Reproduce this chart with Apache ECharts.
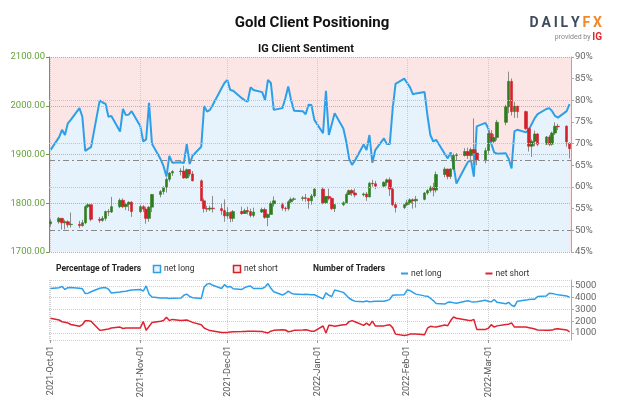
<!DOCTYPE html>
<html><head><meta charset="utf-8">
<script src="https://cdn.jsdelivr.net/npm/echarts/dist/echarts.min.js"></script>
<style>html,body{margin:0;padding:0;background:#fff}#c{width:624px;height:416px}</style>
</head><body><div id="c"></div>
<script>
// ---- categories (trading days) ----
const dates = [
'2021-10-01','2021-10-04','2021-10-05','2021-10-06','2021-10-07','2021-10-08','2021-10-11','2021-10-12','2021-10-13','2021-10-14','2021-10-15','2021-10-18','2021-10-19','2021-10-20','2021-10-21','2021-10-22','2021-10-25','2021-10-26','2021-10-27','2021-10-28','2021-10-29',
'2021-11-01','2021-11-02','2021-11-03','2021-11-04','2021-11-05','2021-11-08','2021-11-09','2021-11-10','2021-11-11','2021-11-12','2021-11-15','2021-11-16','2021-11-17','2021-11-18','2021-11-19','2021-11-22','2021-11-23','2021-11-24','2021-11-25','2021-11-26','2021-11-29','2021-11-30',
'2021-12-01','2021-12-02','2021-12-03','2021-12-06','2021-12-07','2021-12-08','2021-12-09','2021-12-10','2021-12-13','2021-12-14','2021-12-15','2021-12-16','2021-12-17','2021-12-20','2021-12-21','2021-12-22','2021-12-23','2021-12-24','2021-12-27','2021-12-28','2021-12-29','2021-12-30','2021-12-31',
'2022-01-03','2022-01-04','2022-01-05','2022-01-06','2022-01-07','2022-01-10','2022-01-11','2022-01-12','2022-01-13','2022-01-14','2022-01-17','2022-01-18','2022-01-19','2022-01-20','2022-01-21','2022-01-24','2022-01-25','2022-01-26','2022-01-27','2022-01-28','2022-01-31',
'2022-02-01','2022-02-02','2022-02-03','2022-02-04','2022-02-07','2022-02-08','2022-02-09','2022-02-10','2022-02-11','2022-02-14','2022-02-15','2022-02-16','2022-02-17','2022-02-18','2022-02-21','2022-02-22','2022-02-23','2022-02-24','2022-02-25','2022-02-28',
'2022-03-01','2022-03-02','2022-03-03','2022-03-04','2022-03-07','2022-03-08','2022-03-09','2022-03-10','2022-03-11','2022-03-14','2022-03-15','2022-03-16','2022-03-17','2022-03-18','2022-03-21','2022-03-22','2022-03-23','2022-03-24','2022-03-25','2022-03-28','2022-03-29'];

// ---- gold price OHLC ----
const openP = [
1758,1762,1769,1760,1762,1756,1757,1754,1760,1793,1797,1767,1765,1769,1783,1782,1793,1806,1793,1798,1802,
1783,1793,1788,1769,1792,1818,1824,1832,1849,1862,1865,1866,1852,1869,1860,1846,1805,1789,1788,1790,1789,1785,
1774,1781,1769,1783,1779,1785,1783,1775,1782,1787,1771,1777,1799,1797,1790,1789,1803,1808,1810,1811,1810,1805,1815,
1829,1801,1814,1810,1789,1797,1801,1818,1826,1821,1817,1819,1813,1841,1840,1835,1843,1848,1829,1797,1791,
1797,1801,1807,1805,1808,1821,1826,1833,1827,1859,1870,1855,1870,1898,1898,1906,1898,1910,1903,1889,
1908,1943,1927,1935,1966,1998,2050,1988,1999,1988,1953,1917,1927,1942,1921,1936,1921,1944,1958,1958,1923];
const closeP = [
1762,1769,1760,1762,1756,1757,1754,1760,1793,1797,1767,1765,1769,1783,1782,1793,1806,1793,1798,1802,1783,
1793,1788,1769,1792,1818,1824,1832,1849,1862,1865,1866,1852,1869,1860,1846,1805,1789,1788,1790,1789,1785,1774,
1781,1769,1783,1779,1785,1783,1775,1782,1787,1771,1777,1799,1805,1790,1789,1803,1808,1809,1811,1810,1805,1815,1829,
1801,1814,1810,1789,1797,1801,1818,1826,1821,1817,1819,1813,1841,1840,1835,1843,1848,1829,1797,1791,1797,
1801,1807,1805,1808,1821,1826,1833,1827,1859,1870,1855,1870,1898,1899,1906,1898,1910,1903,1889,1908,
1943,1927,1935,1966,1998,2050,1988,1999,1988,1953,1917,1927,1942,1921,1936,1921,1944,1958,1957,1926,1912];
const lowP = [
1752,1758,1746,1746,1750,1750,1749,1752,1757,1790,1763,1760,1762,1764,1774,1780,1790,1790,1786,1784,1772,
1780,1782,1758,1762,1782,1812,1818,1822,1844,1856,1857,1850,1850,1855,1845,1804,1781,1782,1784,1781,1776,1762,
1768,1761,1762,1776,1778,1777,1771,1771,1780,1768,1753,1777,1793,1785,1783,1785,1800,1805,1805,1803,1789,1797,1812,
1798,1799,1806,1786,1782,1794,1800,1817,1815,1812,1814,1805,1812,1834,1829,1831,1836,1815,1794,1781,1788,
1794,1797,1789,1791,1806,1817,1822,1814,1822,1853,1849,1850,1868,1888,1896,1891,1890,1878,1878,1882,
1900,1915,1923,1929,1960,1985,1980,1975,1975,1950,1906,1895,1917,1917,1920,1917,1918,1940,1950,1916,1892];
const highP = [
1768,1772,1770,1766,1765,1781,1764,1766,1796,1800,1797,1772,1774,1785,1788,1813,1810,1810,1801,1804,1804,
1797,1796,1793,1794,1819,1827,1835,1853,1864,1868,1872,1877,1871,1870,1866,1849,1810,1795,1795,1815,1799,1808,
1792,1783,1786,1793,1789,1793,1789,1791,1791,1791,1779,1804,1814,1801,1793,1806,1812,1812,1815,1819,1811,1819,1831,
1832,1815,1830,1812,1798,1804,1822,1828,1829,1830,1822,1823,1844,1848,1846,1845,1851,1853,1832,1802,1798,
1807,1810,1810,1815,1823,1829,1836,1842,1865,1874,1871,1872,1902,1903,1913,1914,1914,1974,1910,1914,
1950,1950,1942,1971,2002,2070,2056,2008,2000,1990,1955,1931,1949,1944,1938,1940,1947,1966,1963,1960,1925];

// ---- IG client sentiment: % of traders net long ----
const netLongPct = [
68.5,71.5,73.2,72,74.7,75.5,78.2,76.2,68.3,68.8,69.2,80,79.5,79.2,76.2,76.4,72.8,78,76.6,76.7,77.5,
74,70.5,71,79.4,70,66.4,64.8,62.4,67.2,65.6,65.7,65.5,69.9,65.3,67.2,69.3,78.7,77.4,77.8,79,82.8,84,
84.7,82.4,82.2,80.5,80,79.7,83,82.4,81.9,80.1,84.7,84,77.8,78.2,80.5,83.2,80,77.6,77.5,76.8,79,78.9,75.5,
72.4,82.2,72,74.5,77,73.5,70.5,66.5,65.1,66.1,69.8,68.5,72,65.6,68.5,71.2,69.9,69.9,78,83.8,85,
84,83,81.4,81.6,81.9,76.5,72,70.5,70.9,67.6,66.6,68,65,60.8,64.6,65.8,66.2,62.4,74,74.8,
73.5,70,68,67.7,67.8,66.5,64.3,72.9,73.2,72.6,73.3,74.6,75.9,76.8,78,78.2,77.5,76.4,76,77.5,79.1];

// ---- number of traders ----
const netLongTraders = [
4780,4850,4950,4700,4850,4870,4800,4750,4350,4380,4500,4800,4850,4860,4720,4400,4480,4520,4540,4600,4650,
4700,4550,5000,4300,4050,3980,3980,3960,3930,3950,3960,4200,4300,4100,4000,3930,4900,5150,5200,5050,4780,5100,
4900,4950,4760,4700,4850,4950,4980,4780,4780,4900,5200,4800,4500,4220,4350,4550,4380,4300,4270,4280,4270,4250,4250,
3900,4400,4200,4100,4650,4450,4200,3950,3800,3700,3660,3720,3650,3670,3700,3700,3750,3850,4200,4230,4250,
4650,4600,4450,4300,4150,4120,3950,3750,3500,3450,3600,3620,3560,3520,3700,3740,3660,3640,3650,3780,
3700,3640,3840,3600,3480,3600,3350,3250,3700,3790,3850,3870,3870,4100,4150,4380,4360,4300,4250,4150,4030];
const netShortTraders = [
2250,2100,1950,1900,1850,1720,1570,1700,2040,2040,2000,1230,1250,1290,1330,1420,1500,1380,1420,1430,1430,
1430,1970,1230,1550,1880,2000,2050,2330,2050,2150,2050,2080,2100,2000,1900,1700,1420,1300,1200,1170,1030,1030,
1030,1080,1110,1120,1130,1140,1150,1150,1120,1050,1000,1150,1220,1280,1250,1100,1150,1220,1250,1270,1220,1150,1150,
1590,1000,1650,1640,1560,1700,1710,1960,2050,1950,1640,1840,1640,2000,1600,1600,1650,1700,1450,900,780,
820,900,920,920,850,1400,1560,1520,1500,1670,1620,2050,2350,2250,2130,2080,2050,2150,1300,1300,
1400,1700,1500,1600,1720,1740,1860,1500,1500,1500,1450,1400,1330,1250,1220,1220,1240,1330,1350,1260,1100];

// ---- axis settings / reference levels ----
const priceRange = [1700, 2100];
const priceStep = 100;
const pctRange = [45, 90];
const pctStep = 5;
const pctGuides = [60, 70, 80];
const pctRefLines = [50, 66.1];
const tradersRange = [400, 5500];
const timeRange = ['2021-09-30 12:00', '2022-03-29 12:00'];
const monthNames = ['Jan','Feb','Mar','Apr','May','Jun','Jul','Aug','Sep','Oct','Nov','Dec'];

const FONT = 'Roboto, "Liberation Sans", Arial, sans-serif';
const BLUE = '#2d9fe9', RED = '#de2330', GREEN = '#2f7d1f', CRED = '#d3202a';
const PRICE_GREEN = '#65a13a';

const chart = echarts.init(document.getElementById('c'), null, {renderer: 'canvas'});
const tMin = +new Date(timeRange[0].replace(' ', 'T'));
const tMax = +new Date(timeRange[1].replace(' ', 'T'));
const ts = dates.map(d => +new Date(d + 'T00:00'));

function fmtDate(v) {
  const d = new Date(v);
  return d.getFullYear() + '-' + monthNames[d.getMonth()] + '-' + String(d.getDate()).padStart(2, '0');
}

const option = {
  animation: false,
  textStyle: {fontFamily: FONT},
  grid: [
    {left: 49, right: 53, top: 57, height: 195, show: true, backgroundColor: '#fce5e5', borderWidth: 0, containLabel: false, outerBoundsMode: 'none'},
    {left: 49, right: 53, top: 280, height: 60, show: false, containLabel: false, outerBoundsMode: 'none'}
  ],
  legend: {
    left: 396, top: 264, itemWidth: 7, itemHeight: 2, itemGap: 44, icon: 'rect',
    textStyle: {fontSize: 8.5, color: '#333', fontFamily: FONT, padding: [0, 0, 0, -2]},
    data: ['net long', 'net short'], selectedMode: false
  },
  xAxis: [
    {type: 'time', gridIndex: 0, min: tMin, max: tMax, z: 2,
     axisLine: {show: false}, axisTick: {show: false}, axisLabel: {show: false},
     splitLine: {show: true, lineStyle: {color: '#cccccc', type: 'dotted', width: 1}}},
    {type: 'time', gridIndex: 1, min: tMin, max: tMax, z: 2,
     axisLine: {show: false},
     axisTick: {show: true, length: 3, lineStyle: {color: '#999'}},
     axisLabel: {show: true, rotate: 90, fontSize: 9, color: '#555', margin: 6, formatter: fmtDate, hideOverlap: false},
     splitLine: {show: true, lineStyle: {color: '#d0d0d0', type: 'dotted', width: 1}}}
  ],
  yAxis: [
    {type: 'value', gridIndex: 0, position: 'left', min: priceRange[0], max: priceRange[1], interval: priceStep, z: 2,
     axisLine: {show: true, lineStyle: {color: PRICE_GREEN, width: 1}},
     axisTick: {show: true, length: 3, lineStyle: {color: PRICE_GREEN}},
     axisLabel: {color: PRICE_GREEN, fontSize: 9.5, margin: 4, formatter: v => v.toFixed(2)},
     splitLine: {show: true, lineStyle: {color: '#9fc77f', type: 'dotted', width: 1}}},
    {type: 'value', gridIndex: 0, position: 'right', min: pctRange[0], max: pctRange[1], interval: pctStep, z: 2,
     axisLine: {show: true, lineStyle: {color: '#aaaaaa', width: 1}},
     axisTick: {show: true, length: 3, lineStyle: {color: '#aaaaaa'}},
     axisLabel: {color: '#666', fontSize: 9.5, margin: 4, formatter: v => v + '%'},
     splitLine: {show: false}},
    {type: 'value', gridIndex: 1, position: 'right', min: tradersRange[0], max: tradersRange[1], splitNumber: 5, z: 2,
     axisLine: {show: true, lineStyle: {color: '#aaaaaa', width: 1}},
     axisTick: {show: true, length: 3, lineStyle: {color: '#aaaaaa'}},
     axisLabel: {color: '#666', fontSize: 9.5, margin: 4, showMinLabel: false, showMaxLabel: false, formatter: v => String(v)},
     splitLine: {show: true, lineStyle: {color: '#d0d0d0', type: 'dotted', width: 1}}}
  ],
  series: [
    {name: 'net long %', type: 'line', xAxisIndex: 0, yAxisIndex: 1, z: 1,
     data: ts.map((t, i) => [t, netLongPct[i]]),
     showSymbol: false, symbol: 'none',
     lineStyle: {color: BLUE, width: 2}, itemStyle: {color: BLUE},
     areaStyle: {color: '#e6f3fc', opacity: 1, origin: 'start'},
     markLine: {silent: true, symbol: 'none', label: {show: false}, animation: false,
       data: pctGuides.map(v => ({yAxis: v, lineStyle: {color: '#c4c4c4', type: 'dotted', width: 1}}))
         .concat(pctRefLines.map(v => ({yAxis: v, lineStyle: {color: '#8a8a8a', type: [6, 3, 2, 3], width: 1.2}})))}},
    {name: 'wicks', type: 'candlestick', xAxisIndex: 0, yAxisIndex: 0, z: 3, barWidth: 1,
     encode: {x: 0, y: [1, 2, 3, 4]},
     data: ts.map((t, i) => [t, openP[i], closeP[i], lowP[i], highP[i]]),
     itemStyle: {color: '#8c8c8c', color0: '#8c8c8c', borderColor: '#8c8c8c', borderColor0: '#8c8c8c', borderWidth: 1}},
    {name: 'bodies', type: 'candlestick', xAxisIndex: 0, yAxisIndex: 0, z: 4, barWidth: 3,
     encode: {x: 0, y: [1, 2, 3, 4]},
     data: ts.map((t, i) => [t, openP[i], closeP[i], Math.min(openP[i], closeP[i]), Math.max(openP[i], closeP[i])]),
     itemStyle: {color: GREEN, color0: CRED, borderColor: GREEN, borderColor0: CRED, borderWidth: 0.6}},
    {name: 'net long', type: 'line', xAxisIndex: 1, yAxisIndex: 2,
     data: ts.map((t, i) => [t, netLongTraders[i]]),
     showSymbol: false, symbol: 'none', lineStyle: {color: BLUE, width: 1.5}, itemStyle: {color: BLUE}},
    {name: 'net short', type: 'line', xAxisIndex: 1, yAxisIndex: 2,
     data: ts.map((t, i) => [t, netShortTraders[i]]),
     showSymbol: false, symbol: 'none', lineStyle: {color: RED, width: 1.5}, itemStyle: {color: RED}}
  ],
  graphic: [
    {type: 'text', left: 'center', top: 16, style: {text: 'Gold Client Positioning', font: 'bold 15px ' + FONT, fill: '#111'}},
    {type: 'text', x: 306, y: 49, style: {text: 'IG Client Sentiment', font: 'bold 11px ' + FONT, fill: '#111', align: 'center', verticalAlign: 'middle'}},
    {type: 'text', x: 602, y: 23, style: {
      text: '{d|D\u2009A\u2009I\u2009L\u2009Y\u2009}{f|F\u2009X}', align: 'right', verticalAlign: 'middle',
      rich: {d: {font: 'bold 14px ' + FONT, fill: '#3e4b5b'}, f: {font: 'bold 14px ' + FONT, fill: '#f3892a'}}}},
    {type: 'text', x: 602, y: 37, style: {
      text: '{p|provided by }{g|IG}', align: 'right', verticalAlign: 'middle',
      rich: {p: {font: '7px ' + FONT, fill: '#888'}, g: {font: 'bold 10px ' + FONT, fill: '#e1262d'}}}},
    {type: 'text', x: 56, y: 269, style: {text: 'Percentage of Traders', font: 'bold 8.5px ' + FONT, fill: '#222', verticalAlign: 'middle'}},
    {type: 'rect', shape: {x: 153.5, y: 265.5, width: 7, height: 7}, style: {fill: '#e6f3fc', stroke: BLUE, lineWidth: 1.5}},
    {type: 'text', x: 164, y: 269, style: {text: 'net long', font: '8.5px ' + FONT, fill: '#333', verticalAlign: 'middle'}},
    {type: 'rect', shape: {x: 233.5, y: 265.5, width: 7, height: 7}, style: {fill: '#fce5e5', stroke: CRED, lineWidth: 1.5}},
    {type: 'text', x: 244, y: 269, style: {text: 'net short', font: '8.5px ' + FONT, fill: '#333', verticalAlign: 'middle'}},
    {type: 'text', x: 313, y: 269, style: {text: 'Number of Traders', font: 'bold 8.5px ' + FONT, fill: '#222', verticalAlign: 'middle'}}
  ]
};
chart.setOption(option);
</script>
</body></html>
